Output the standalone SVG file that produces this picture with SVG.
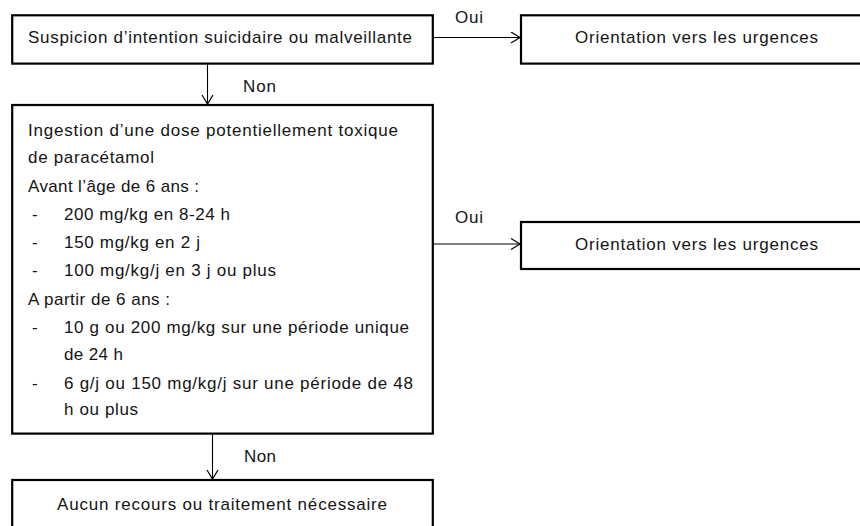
<svg xmlns="http://www.w3.org/2000/svg" width="860" height="526" viewBox="0 0 860 526">
  <defs>
    <style>
      .box { fill: #ffffff; stroke: #000000; stroke-width: 2.2; }
      .edge { fill: none; stroke: #000000; stroke-width: 1.1; }
      text { font-family: "Liberation Sans", Arial, sans-serif; font-size: 17px; fill: #141414; }
      .c { text-anchor: middle; }
    </style>
    <marker id="open-arrow" markerUnits="userSpaceOnUse" markerWidth="12" markerHeight="14" refX="10" refY="6" orient="auto">
      <path d="M1,0.5 L10,6 L1,11.5" fill="none" stroke="#000000" stroke-width="1.2"/>
    </marker>
  </defs>

  <rect width="860" height="526" fill="#ffffff"/>

  <!-- connectors -->
  <g id="connectors">
    <line class="edge" x1="433" y1="37.5" x2="520" y2="37.5" marker-end="url(#open-arrow)"/>
    <line class="edge" x1="207.5" y1="64" x2="207.5" y2="104" marker-end="url(#open-arrow)"/>
    <line class="edge" x1="433" y1="244" x2="520" y2="244" marker-end="url(#open-arrow)"/>
    <line class="edge" x1="212.5" y1="434" x2="212.5" y2="479" marker-end="url(#open-arrow)"/>
    <text x="455" y="23" textLength="28">Oui</text>
    <text x="243" y="92" textLength="33">Non</text>
    <text x="455" y="223" textLength="28">Oui</text>
    <text x="244" y="462" textLength="32">Non</text>
  </g>

  <!-- suspicion question -->
  <g id="node-suspicion">
    <rect class="box" x="12.2" y="15.3" width="420.6" height="48.3"/>
    <text class="c" x="220" y="43" textLength="384" lengthAdjust="spacing">Suspicion d’intention suicidaire ou malveillante</text>
  </g>

  <!-- emergency referral (top) -->
  <g id="node-urgences-1">
    <rect class="box" x="521" y="15.3" width="350" height="48.3"/>
    <text class="c" x="696.5" y="43" textLength="243" lengthAdjust="spacing">Orientation vers les urgences</text>
  </g>

  <!-- toxic dose criteria -->
  <g id="node-dose">
    <rect class="box" x="12.2" y="105" width="420.6" height="328.6"/>
    <text x="28" y="135.5" textLength="370" lengthAdjust="spacing">Ingestion d’une dose potentiellement toxique</text>
    <text x="28" y="163" textLength="126" lengthAdjust="spacing">de paracétamol</text>
    <text x="28" y="191.5" textLength="171" lengthAdjust="spacing">Avant l’âge de 6 ans :</text>
    <text x="32" y="219.5">-</text>
    <text x="64" y="219.5" textLength="166" lengthAdjust="spacing">200 mg/kg en 8-24 h</text>
    <text x="32" y="247.5">-</text>
    <text x="64" y="247.5" textLength="136" lengthAdjust="spacing">150 mg/kg en 2 j</text>
    <text x="32" y="275.5">-</text>
    <text x="64" y="275.5" textLength="212" lengthAdjust="spacing">100 mg/kg/j en 3 j ou plus</text>
    <text x="28" y="305" textLength="142" lengthAdjust="spacing">A partir de 6 ans :</text>
    <text x="32" y="333">-</text>
    <text x="64" y="333" textLength="345" lengthAdjust="spacing">10 g ou 200 mg/kg sur une période unique</text>
    <text x="64" y="360" textLength="59" lengthAdjust="spacing">de 24 h</text>
    <text x="32" y="388.5">-</text>
    <text x="64" y="388.5" textLength="349" lengthAdjust="spacing">6 g/j ou 150 mg/kg/j sur une période de 48</text>
    <text x="64" y="415" textLength="74" lengthAdjust="spacing">h ou plus</text>
  </g>

  <!-- emergency referral (middle) -->
  <g id="node-urgences-2">
    <rect class="box" x="521" y="222" width="350" height="47"/>
    <text class="c" x="696.5" y="250" textLength="243" lengthAdjust="spacing">Orientation vers les urgences</text>
  </g>

  <!-- no action needed -->
  <g id="node-aucun">
    <rect class="box" x="12.2" y="480" width="420.6" height="60"/>
    <text class="c" x="222" y="510" textLength="330" lengthAdjust="spacing">Aucun recours ou traitement nécessaire</text>
  </g>
</svg>
